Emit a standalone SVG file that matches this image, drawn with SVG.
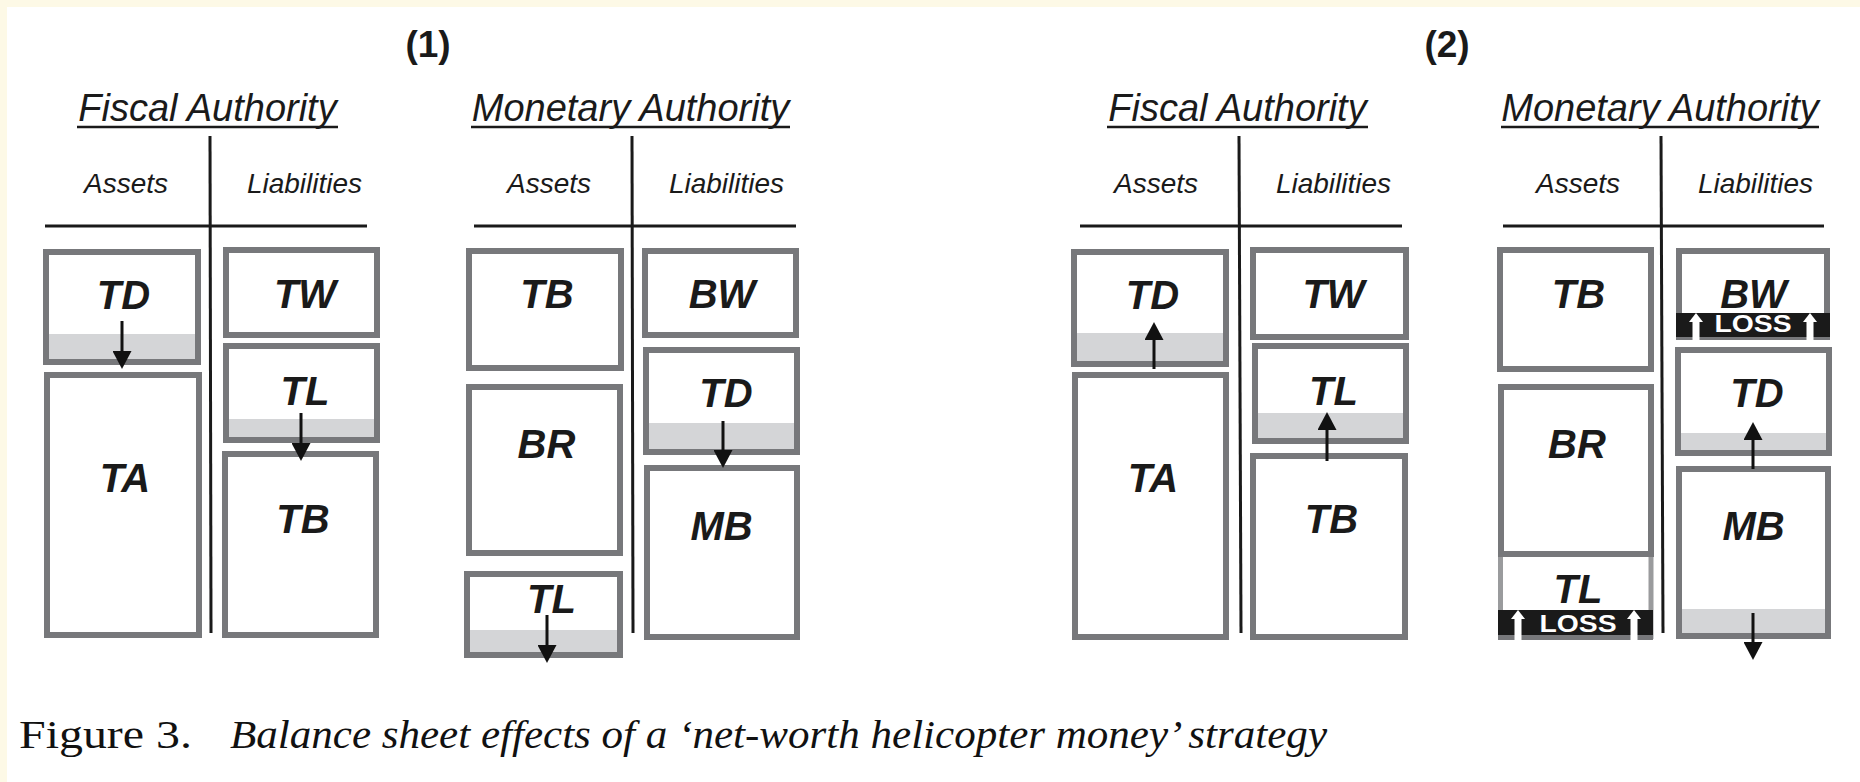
<svg xmlns="http://www.w3.org/2000/svg" width="1860" height="782" viewBox="0 0 1860 782">
<style>
.box{fill:none;stroke:#77787b;stroke-width:6}
.lbox{fill:none;stroke:#9a9b9d;stroke-width:5}
.shade{fill:#d4d5d7}
.lbl{font-family:"Liberation Sans",Arial,sans-serif;font-weight:bold;font-style:italic;font-size:40px;fill:#1a1a1a;text-anchor:middle}
.hd{font-family:"Liberation Sans",Arial,sans-serif;font-style:italic;font-size:38px;fill:#1a1a1a;text-anchor:middle}
.col{font-family:"Liberation Sans",Arial,sans-serif;font-style:italic;font-size:28px;fill:#1a1a1a;text-anchor:middle}
.num{font-family:"Liberation Sans",Arial,sans-serif;font-weight:bold;font-size:37px;fill:#1a1a1a;text-anchor:middle}
.rule{stroke:#1a1a1a;stroke-width:3;fill:none}
.uline{stroke:#1a1a1a;stroke-width:2.5;fill:none}
.arr{stroke:#111;stroke-width:3;fill:none;marker-end:url(#ah)}
.loss{fill:#1a1a1a}
.lossT{font-family:"Liberation Sans",Arial,sans-serif;font-weight:bold;font-size:24px;fill:#fff;text-anchor:middle}
.wa{fill:#fff}
.cap{font-family:"Liberation Serif","Times New Roman",serif;font-size:40px;fill:#111}
</style>
<defs>
<marker id="ah" viewBox="0 0 18 19" refX="10" refY="9.5" markerWidth="18" markerHeight="19" markerUnits="userSpaceOnUse" orient="auto">
<path d="M0,0 L18,9.5 L0,19 z" fill="#111"/>
</marker>
</defs>
<rect x="0" y="0" width="1860" height="782" fill="#fff"/>
<rect x="0" y="0" width="1860" height="7" fill="#fdf9e6"/>
<rect x="0" y="0" width="7" height="782" fill="#fdf9e6"/>

<!-- Headings and T-accounts -->
<g id="headings">
<text class="num" x="428" y="57">(1)</text>
<text class="num" x="1447" y="57">(2)</text>

<text class="hd" x="207.5" y="121">Fiscal Authority</text>
<line class="uline" x1="77" y1="127" x2="338" y2="127"/>
<text class="col" x="126" y="193">Assets</text>
<text class="col" x="304.5" y="193">Liabilities</text>
<line class="rule" x1="210" y1="136" x2="211" y2="633"/>
<line class="rule" x1="45" y1="226" x2="367" y2="226"/>

<text class="hd" x="630.5" y="121">Monetary Authority</text>
<line class="uline" x1="471" y1="127" x2="790" y2="127"/>
<text class="col" x="549" y="193">Assets</text>
<text class="col" x="726.5" y="193">Liabilities</text>
<line class="rule" x1="632" y1="136" x2="633" y2="633"/>
<line class="rule" x1="474" y1="226" x2="796" y2="226"/>

<text class="hd" x="1237.5" y="121">Fiscal Authority</text>
<line class="uline" x1="1107" y1="127" x2="1368" y2="127"/>
<text class="col" x="1156" y="193">Assets</text>
<text class="col" x="1333.5" y="193">Liabilities</text>
<line class="rule" x1="1239" y1="136" x2="1241" y2="633"/>
<line class="rule" x1="1080" y1="226" x2="1402" y2="226"/>

<text class="hd" x="1660" y="121">Monetary Authority</text>
<line class="uline" x1="1501" y1="127" x2="1819" y2="127"/>
<text class="col" x="1578" y="193">Assets</text>
<text class="col" x="1755.5" y="193">Liabilities</text>
<line class="rule" x1="1661" y1="136" x2="1663" y2="633"/>
<line class="rule" x1="1503" y1="226" x2="1824" y2="226"/>
</g>

<!-- Panel 1: Fiscal Authority -->
<g id="p1-fa-TD">
<rect class="shade" x="46" y="334" width="152" height="28"/>
<rect class="box" x="46" y="252" width="152" height="110"/>
<text class="lbl" x="123.5" y="309">TD</text>
</g>
<g id="p1-fa-TA">
<rect class="box" x="47" y="375" width="152" height="260"/>
<text class="lbl" x="125" y="492">TA</text>
</g>
<g id="p1-fa-TW">
<rect class="box" x="226" y="250" width="151" height="85"/>
<text class="lbl" x="305" y="308">TW</text>
</g>
<g id="p1-fa-TL">
<rect class="shade" x="226" y="419" width="151" height="21"/>
<rect class="box" x="226" y="346" width="151" height="94"/>
<text class="lbl" x="305" y="405">TL</text>
</g>
<g id="p1-fa-TB">
<rect class="box" x="225" y="454" width="151" height="181"/>
<text class="lbl" x="303" y="533">TB</text>
</g>

<!-- Panel 1: Monetary Authority -->
<g id="p1-ma-TB">
<rect class="box" x="469" y="251" width="152" height="117"/>
<text class="lbl" x="547" y="308">TB</text>
</g>
<g id="p1-ma-BR">
<rect class="box" x="469" y="387" width="151" height="166"/>
<text class="lbl" x="546.5" y="458">BR</text>
</g>
<g id="p1-ma-TL">
<rect class="shade" x="467" y="630" width="153" height="25"/>
<rect class="box" x="467" y="574" width="153" height="81"/>
<text class="lbl" x="551.5" y="613">TL</text>
</g>
<g id="p1-ma-BW">
<rect class="box" x="645" y="251" width="151" height="84"/>
<text class="lbl" x="722" y="308">BW</text>
</g>
<g id="p1-ma-TD">
<rect class="shade" x="646" y="423" width="151" height="29"/>
<rect class="box" x="646" y="350" width="151" height="102"/>
<text class="lbl" x="726" y="407">TD</text>
</g>
<g id="p1-ma-MB">
<rect class="box" x="647" y="468" width="150" height="169"/>
<text class="lbl" x="721.5" y="540">MB</text>
</g>

<!-- Panel 2: Fiscal Authority -->
<g id="p2-fa-TD">
<rect class="shade" x="1074" y="333" width="152" height="31"/>
<rect class="box" x="1074" y="252" width="152" height="112"/>
<text class="lbl" x="1152.5" y="309">TD</text>
</g>
<g id="p2-fa-TA">
<rect class="box" x="1075" y="375" width="151" height="262"/>
<text class="lbl" x="1153" y="492">TA</text>
</g>
<g id="p2-fa-TW">
<rect class="box" x="1253" y="250" width="153" height="87"/>
<text class="lbl" x="1333.5" y="308">TW</text>
</g>
<g id="p2-fa-TL">
<rect class="shade" x="1255" y="413" width="151" height="28"/>
<rect class="box" x="1255" y="346" width="151" height="95"/>
<text class="lbl" x="1333.5" y="405">TL</text>
</g>
<g id="p2-fa-TB">
<rect class="box" x="1253" y="456" width="152" height="181"/>
<text class="lbl" x="1331.5" y="533">TB</text>
</g>

<!-- Panel 2: Monetary Authority -->
<g id="p2-ma-TB">
<rect class="box" x="1500" y="250" width="151" height="119"/>
<text class="lbl" x="1578.5" y="308">TB</text>
</g>
<g id="p2-ma-TL">
<rect class="lbox" x="1500.5" y="554" width="150.5" height="82.5"/>
<rect class="loss" x="1498" y="610" width="155" height="25"/>
<rect x="1498" y="635" width="155" height="5" fill="#77787b"/>
<polygon class="wa" points="1518,610 1525,619 1511,619"/>
<rect class="wa" x="1514.5" y="618" width="7" height="22"/>
<polygon class="wa" points="1634,610 1641,619 1627,619"/>
<rect class="wa" x="1630.5" y="618" width="7" height="22"/>
<text class="lossT" x="1578" y="632" textLength="77" lengthAdjust="spacingAndGlyphs">LOSS</text>
<text class="lbl" x="1578" y="603">TL</text>
</g>
<g id="p2-ma-BR">
<rect class="box" x="1501" y="387" width="150" height="167"/>
<text class="lbl" x="1577" y="458">BR</text>
</g>
<g id="p2-ma-BW">
<rect class="box" x="1679" y="251" width="148" height="86"/>
<rect class="loss" x="1676" y="313" width="154" height="24"/>
<rect x="1676" y="337" width="154" height="3" fill="#77787b"/>
<polygon class="wa" points="1696,313 1703,322 1689,322"/>
<rect class="wa" x="1692.5" y="321" width="7" height="19"/>
<polygon class="wa" points="1810,313 1817,322 1803,322"/>
<rect class="wa" x="1806.5" y="321" width="7" height="19"/>
<text class="lossT" x="1753" y="332" textLength="77" lengthAdjust="spacingAndGlyphs">LOSS</text>
<text class="lbl" x="1753.5" y="308">BW</text>
</g>
<g id="p2-ma-TD">
<rect class="shade" x="1678" y="433" width="151" height="20"/>
<rect class="box" x="1678" y="350" width="151" height="103"/>
<text class="lbl" x="1757" y="407">TD</text>
</g>
<g id="p2-ma-MB">
<rect class="shade" x="1679" y="609" width="149" height="27"/>
<rect class="box" x="1679" y="469" width="149" height="167"/>
<text class="lbl" x="1753.5" y="540">MB</text>
</g>

<!-- Connectors -->
<g id="connectors">
<line class="arr" x1="122" y1="321" x2="122" y2="361"/>
<line class="arr" x1="301" y1="413" x2="301" y2="453"/>
<line class="arr" x1="723" y1="421" x2="723" y2="460"/>
<line class="arr" x1="547" y1="615" x2="547" y2="655"/>
<line class="arr" x1="1154" y1="369" x2="1154" y2="330"/>
<line class="arr" x1="1327" y1="461" x2="1327" y2="420"/>
<line class="arr" x1="1753" y1="469" x2="1753" y2="430"/>
<line class="arr" x1="1753" y1="613" x2="1753" y2="652"/>
</g>

<!-- Caption -->
<g id="caption">
<text class="cap" x="19" y="748" textLength="173" lengthAdjust="spacingAndGlyphs">Figure 3.</text>
<text class="cap" x="230" y="748" font-style="italic" textLength="1097" lengthAdjust="spacingAndGlyphs">Balance sheet effects of a ‘net-worth helicopter money’ strategy</text>
</g>
</svg>
